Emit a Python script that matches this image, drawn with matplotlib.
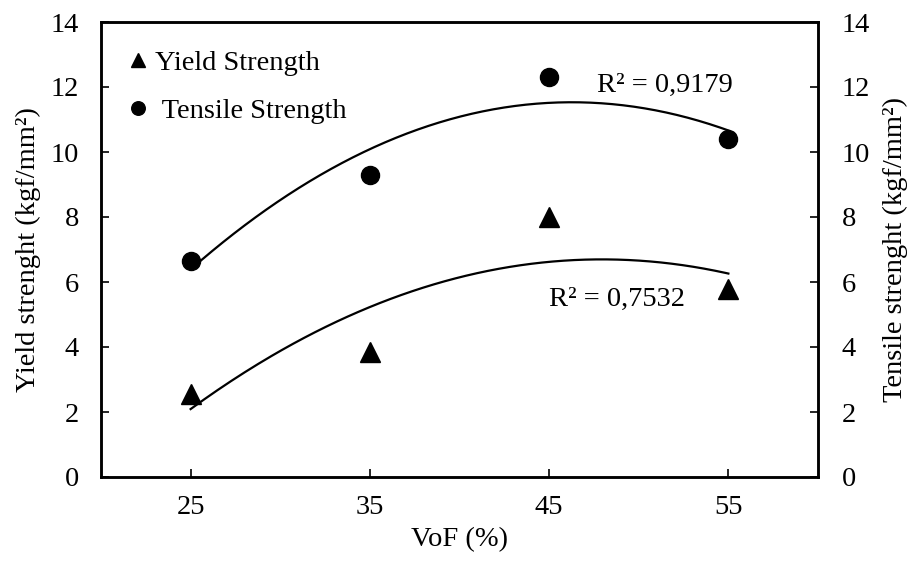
import numpy as np
import matplotlib
matplotlib.use("Agg")
import matplotlib.pyplot as plt

vof = [25, 35, 45, 55]
yield_strength = [2.55, 3.85, 8.0, 5.8]
tensile_strength = [6.65, 9.3, 12.3, 10.4]
yield_r2 = "R² = 0,7532"
tensile_r2 = "R² = 0,9179"

plt.rcParams['font.family'] = ['Liberation Serif', 'DejaVu Serif']
plt.rcParams['font.size'] = 20.5


def run_plot():
    fig = plt.figure(figsize=(9.15, 5.65), dpi=100)
    ax = fig.add_axes([101 / 915, 88 / 565, 717 / 915, 455 / 565])

    ############## POLYNOMIAL TRENDLINES ##############
    xs = np.linspace(vof[0], vof[-1], 200)
    fit_y = np.polyfit(vof, yield_strength, 2)
    fit_t = np.polyfit(vof, tensile_strength, 2)
    ax.plot(xs, np.polyval(fit_t, xs), color='black', lw=1.6)
    ax.plot(xs, np.polyval(fit_y, xs), color='black', lw=1.6)

    ############## DATA POINTS ##############
    ax.plot(vof, yield_strength, '^', color='black', ms=14, label="Yield Strength")
    ax.plot(vof, tensile_strength, 'o', color='black', ms=13, label=" Tensile Strength")

    ax.text(47.65, 12.06, tensile_r2, va='center', ha='left')
    ax.text(44.97, 5.45, yield_r2, va='center', ha='left')

    ax.set_xlim(20, 60)
    ax.set_ylim(0, 14)
    ax.set_xticks(vof)
    ax.set_yticks(range(0, 15, 2))
    ax.tick_params(direction='in', length=6, width=1.2)
    ax.tick_params(axis='x', pad=13)
    ax.tick_params(axis='y', pad=16)
    for s in ax.spines.values():
        s.set_linewidth(1.8)

    ax.set_xlabel("VoF (%)", labelpad=5)
    ax.set_ylabel("Yield strenght (kgf/mm²)", labelpad=7)

    ax2 = ax.twinx()
    ax2.set_ylim(0, 14)
    ax2.set_yticks(range(0, 15, 2))
    ax2.tick_params(direction='in', length=6, width=1.2, pad=17)
    ax2.set_ylabel("Tensile strenght (kgf/mm²)", labelpad=9)
    for s in ax2.spines.values():
        s.set_linewidth(1.8)

    ax.legend(loc='upper left', bbox_to_anchor=(0.0, 1.0), frameon=False,
              markerscale=0.75, handlelength=0.6, handletextpad=0.3,
              labelspacing=0.75, borderaxespad=0.6)

    fig.savefig("out.png", dpi=100)


if __name__ == "__main__":
    run_plot()
